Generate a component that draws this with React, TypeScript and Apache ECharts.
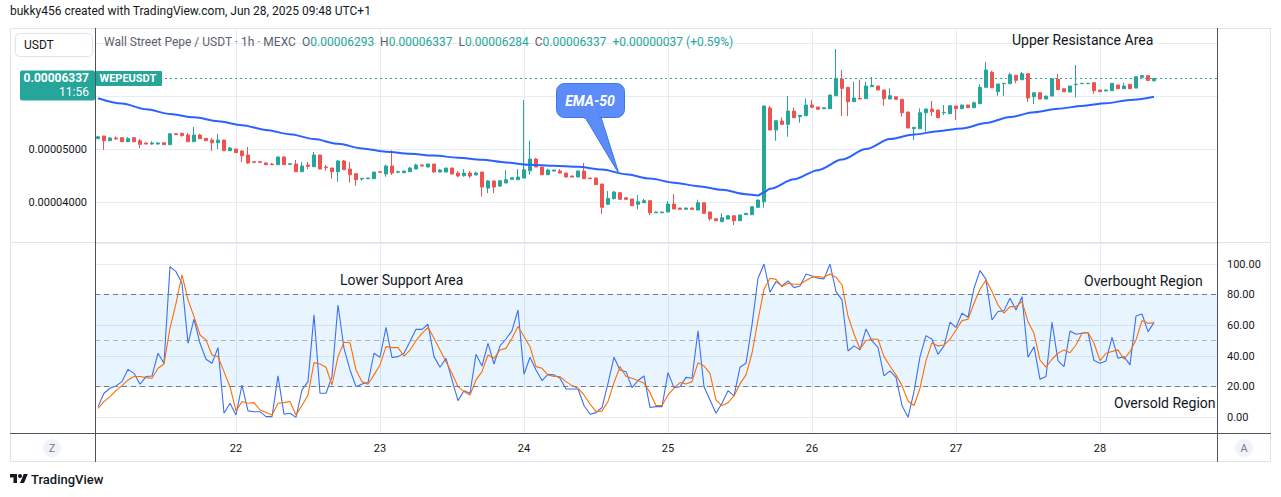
import React, { useEffect, useRef } from "react";
import * as echarts from "echarts";

const FONT = "Roboto, 'Liberation Sans', sans-serif";
const UP = "#26a69a";
const DOWN = "#ef5350";
const GRID = "#e6ecf3";
const TEXT = "#131722";
const PRICE_UNIT = 1e-8; // prices below are stored in units of 0.00000001 USDT

// hourly slots, starting Jun 21 01:00
const HOUR_SLOTS = 187;
const categories = Array.from({ length: HOUR_SLOTS }, (_, i) => {
  const h = i + 1;
  return `${21 + Math.floor(h / 24)} ${String(h % 24).padStart(2, "0")}:00`;
});

const open = [
  5200, 5251, 5162, 5213, 5219, 5143, 5219, 5162, 5119, 5100,
  5100, 5124, 5087, 5294, 5302, 5270, 5143, 5270, 5207, 5175,
  5124, 5175, 4973, 5005, 4968, 4892, 4766, 4766, 4741, 4722,
  4709, 4854, 4717, 4722, 4577, 4704, 4671, 4892, 4666, 4647,
  4577, 4779, 4628, 4539, 4439, 4445, 4445, 4577, 4534, 4685,
  4566, 4558, 4577, 4628, 4704, 4666, 4722, 4571, 4571, 4647,
  4552, 4502, 4552, 4515, 4571, 4269, 4402, 4307, 4364, 4434,
  4426, 4458, 4596, 4817, 4666, 4520, 4590, 4590, 4552, 4496,
  4477, 4590, 4458, 4458, 4345, 3962, 4068, 4181, 4086, 4062,
  3962, 3992, 4030, 3803, 3803, 3817, 3968, 3892, 3868, 3892,
  3854, 3992, 3817, 3690, 3634, 3684, 3747, 3652, 3766, 3766,
  3905, 4011, 5779, 5364, 5534, 5471, 5722, 5615, 5634, 5836,
  5798, 5766, 5766, 6011, 6326, 6170, 5898, 5962, 5955, 6181,
  6194, 6119, 5949, 5992, 5943, 5704, 5388, 5388, 5690, 5760,
  5741, 5690, 5671, 5817, 5766, 5836, 5785, 5860, 6170, 6453,
  6087, 6238, 6238, 6396, 6313, 6426, 5992, 6068, 5949, 6005,
  6321, 6143, 6081, 6221, 6238, 6238, 6256, 6119, 6100, 6105,
  6213, 6143, 6226, 6156, 6358, 6389, 6293,
];
const close = [
  5237, 5162, 5213, 5194, 5143, 5200, 5143, 5094, 5100, 5119,
  5119, 5087, 5294, 5275, 5260, 5143, 5270, 5200, 5162, 5124,
  5175, 4973, 5024, 4936, 4879, 4741, 4754, 4754, 4709, 4709,
  4854, 4709, 4728, 4577, 4685, 4679, 4892, 4628, 4653, 4577,
  4779, 4615, 4520, 4426, 4452, 4458, 4571, 4566, 4685, 4553,
  4577, 4590, 4647, 4704, 4685, 4722, 4571, 4609, 4647, 4534,
  4496, 4552, 4496, 4552, 4288, 4402, 4288, 4407, 4426, 4464,
  4477, 4615, 4817, 4666, 4520, 4609, 4609, 4552, 4477, 4477,
  4590, 4445, 4445, 4332, 3905, 4075, 4194, 4056, 4056, 3935,
  4011, 4030, 3803, 3817, 3817, 3968, 3873, 3868, 3892, 3868,
  3992, 3792, 3690, 3652, 3709, 3747, 3652, 3760, 3792, 3917,
  4043, 5817, 5364, 5539, 5471, 5722, 5596, 5641, 5836, 5792,
  5755, 5785, 6024, 6339, 6151, 5898, 5968, 5949, 6194, 6207,
  6119, 5955, 6011, 5943, 5690, 5402, 5415, 5690, 5760, 5709,
  5596, 5698, 5822, 5766, 5836, 5785, 5879, 6170, 6496, 6162,
  6232, 6245, 6407, 6302, 6426, 5968, 6068, 5949, 6005, 6332,
  6124, 6087, 6194, 6228, 6245, 6245, 6105, 6087, 6119, 6245,
  6143, 6194, 6143, 6370, 6389, 6300, 6337,
];
const low = [
  5194, 4987, 5160, 5185, 5137, 5137, 5137, 5024, 5090, 5087,
  5090, 5085, 5085, 5270, 5237, 5140, 5140, 5198, 5158, 4968,
  5005, 4970, 4968, 4930, 4760, 4728, 4750, 4750, 4704, 4704,
  4707, 4707, 4713, 4575, 4575, 4628, 4669, 4625, 4596, 4445,
  4388, 4613, 4369, 4313, 4407, 4440, 4443, 4562, 4483, 4515,
  4558, 4555, 4575, 4626, 4683, 4662, 4568, 4569, 4569, 4530,
  4471, 4483, 4458, 4513, 4105, 4175, 4175, 4288, 4362, 4430,
  4424, 4455, 4520, 4664, 4517, 4517, 4586, 4550, 4474, 4474,
  4474, 4443, 4440, 4330, 3779, 3949, 4056, 4050, 4050, 3930,
  3868, 3987, 3760, 3800, 3800, 3815, 3871, 3864, 3860, 3860,
  3852, 3790, 3652, 3650, 3632, 3680, 3572, 3650, 3762, 3762,
  3898, 3898, 5362, 5162, 5469, 5237, 5594, 5502, 5632, 5790,
  5752, 5762, 5764, 6009, 5628, 5628, 5896, 5947, 5953, 6179,
  6115, 5822, 5947, 5940, 5615, 5400, 5175, 5386, 5332, 5628,
  5594, 5647, 5669, 5553, 5764, 5783, 5783, 5858, 6168, 6160,
  6011, 6011, 6236, 6245, 6311, 5892, 5855, 5947, 5947, 6003,
  6122, 6085, 6079, 5981, 6234, 6234, 6049, 6085, 6098, 6103,
  6141, 6141, 6141, 6154, 6355, 6292, 6284,
];
const high = [
  5251, 5254, 5232, 5241, 5232, 5232, 5232, 5194, 5128, 5151,
  5137, 5128, 5302, 5300, 5313, 5307, 5421, 5294, 5210, 5213,
  5294, 5181, 5043, 5010, 4981, 5043, 4770, 4770, 4760, 4741,
  4868, 4873, 4732, 4798, 4760, 4760, 4949, 4895, 4704, 4650,
  4798, 4798, 4760, 4552, 4458, 4462, 4577, 4580, 4709, 4981,
  4596, 4594, 4666, 4728, 4717, 4726, 4726, 4628, 4650, 4650,
  4590, 4628, 4590, 4577, 4573, 4420, 4415, 4420, 4609, 4468,
  4628, 5930, 5162, 4836, 4670, 4634, 4613, 4628, 4555, 4500,
  4594, 4741, 4462, 4462, 4350, 4213, 4213, 4190, 4090, 4065,
  4137, 4062, 4035, 3820, 3822, 4024, 4156, 3896, 3900, 3900,
  4049, 3996, 3820, 3694, 3792, 3750, 3750, 3764, 3796, 3920,
  4047, 5820, 5817, 5542, 5604, 6005, 5785, 5647, 5962, 5930,
  5800, 5790, 6028, 6892, 6496, 6174, 6275, 6313, 6275, 6364,
  6198, 6122, 6151, 5996, 5946, 5708, 5420, 5773, 5773, 5911,
  5745, 5836, 5836, 5820, 5840, 5840, 5898, 6226, 6647, 6483,
  6236, 6251, 6445, 6400, 6458, 6430, 6072, 6072, 6009, 6335,
  6421, 6147, 6198, 6590, 6249, 6249, 6260, 6122, 6122, 6249,
  6217, 6256, 6230, 6374, 6398, 6398, 6337,
];

// EMA-50 (hour slot -> value)
const emaHours = [
  1, 5, 9, 13, 17, 21, 25, 29, 33, 37, 41, 45, 49, 53, 57, 61, 65, 69, 73, 77,
  81, 85, 89, 93, 97, 101, 105, 109, 111, 112, 113, 117, 121, 125, 129, 133,
  137, 141, 145, 149, 153, 157, 161, 165, 169, 173, 177,
];
const emaValues = [
  5964, 5864, 5756, 5666, 5604, 5530, 5456, 5364, 5285, 5194,
  5103, 5017, 4956, 4915, 4881, 4843, 4805, 4751, 4707, 4688,
  4669, 4619, 4528, 4447, 4371, 4305, 4235, 4154, 4128, 4190,
  4254, 4435, 4607, 4807, 5005, 5194, 5279, 5341, 5394, 5496,
  5609, 5700, 5766, 5817, 5870, 5930, 5992,
];

const stochK = [
  7.0, 15.7, 19.0, 20.5, 23.3, 31.3, 28.7, 21.6, 26.6, 27.0,
  41.8, 35.3, 98.3, 95.0, 87.4, 48.3, 64.0, 48.3, 37.9, 35.3,
  45.5, 2.7, 9.2, 1.6, 21.1, 4.2, 3.7, 3.7, 0.5, 0.5,
  27.0, 2.0, 2.7, 0.0, 17.9, 23.3, 66.8, 15.7, 15.7, 26.6,
  73.3, 45.0, 30.9, 20.0, 21.8, 22.7, 41.8, 39.2, 58.7, 39.0,
  39.6, 41.8, 49.4, 57.4, 57.4, 60.7, 39.6, 32.7, 38.5, 24.4,
  10.9, 17.4, 15.7, 41.1, 33.5, 48.3, 34.8, 46.6, 51.1, 56.6,
  70.0, 28.1, 39.2, 30.9, 24.0, 28.1, 27.7, 25.5, 18.5, 18.5,
  18.5, 7.7, 2.0, 3.1, 6.4, 22.2, 39.2, 30.9, 29.8, 19.4,
  24.0, 27.0, 6.4, 7.0, 7.0, 29.2, 19.4, 20.0, 26.1, 25.5,
  56.4, 20.0, 11.3, 2.7, 9.2, 17.4, 14.0, 32.7, 35.3, 60.3,
  90.7, 100.0, 81.6, 88.5, 85.7, 89.0, 84.6, 85.7, 93.5, 92.2,
  90.7, 90.3, 100.0, 82.0, 76.6, 43.3, 46.6, 44.0, 57.7, 49.8,
  45.7, 27.0, 30.3, 26.1, 7.7, 0.0, 16.8, 39.6, 53.3, 50.9,
  41.1, 46.6, 62.0, 58.7, 67.9, 65.3, 84.2, 95.7, 90.0, 63.5,
  69.0, 69.6, 77.7, 70.0, 78.7, 39.2, 46.1, 24.8, 26.6, 62.0,
  37.0, 33.1, 56.3, 54.2, 54.8, 55.3, 37.0, 35.3, 36.8, 52.2,
  38.5, 39.6, 34.2, 66.1, 67.4, 55.9, 61.8,
];
const stochD = [
  5.9, 10.3, 13.5, 17.4, 20.7, 24.4, 26.6, 26.6, 25.9, 25.5,
  32.0, 34.8, 58.1, 74.4, 92.9, 76.6, 65.7, 53.7, 50.5, 40.7,
  39.6, 29.8, 20.0, 4.2, 10.3, 9.2, 9.6, 4.8, 3.1, 1.6,
  9.2, 9.6, 10.3, 1.6, 7.7, 14.6, 35.7, 34.8, 32.7, 21.1,
  39.6, 49.0, 48.7, 30.9, 23.3, 21.6, 27.7, 34.2, 46.1, 45.5,
  45.5, 40.0, 43.9, 50.0, 54.8, 58.7, 51.6, 43.9, 36.3, 28.7,
  20.0, 16.8, 14.6, 24.4, 29.8, 40.7, 38.5, 43.9, 45.0, 51.6,
  59.2, 52.7, 46.1, 33.1, 32.0, 27.7, 26.6, 26.6, 23.3, 20.7,
  19.0, 14.6, 8.7, 3.7, 4.2, 10.3, 22.7, 33.1, 26.6, 25.5,
  24.0, 22.2, 16.1, 7.7, 7.7, 14.6, 19.0, 22.7, 21.8, 23.3,
  35.7, 33.5, 28.7, 11.3, 7.7, 9.6, 14.0, 21.8, 27.7, 41.8,
  63.5, 83.5, 90.7, 90.0, 85.3, 87.4, 86.8, 86.8, 89.2, 91.4,
  91.8, 91.4, 93.5, 91.4, 86.3, 66.1, 54.4, 44.6, 50.0, 51.1,
  50.9, 39.6, 33.5, 27.7, 20.7, 10.7, 7.7, 19.0, 37.0, 48.7,
  46.6, 47.2, 50.9, 57.0, 63.1, 64.0, 74.4, 83.5, 89.6, 82.0,
  73.3, 67.9, 72.2, 72.2, 75.5, 62.4, 54.8, 37.4, 32.7, 37.9,
  41.8, 44.0, 42.2, 47.2, 54.8, 55.3, 48.3, 37.0, 41.8, 42.9,
  44.0, 37.9, 42.9, 50.5, 63.1, 61.3, 61.8,
];

const priceLabelTicks = [4000, 5000];
const oscLabelTicks = [0, 20, 40, 60, 80, 100];
const oscLevels = { upper: 80, middle: 50, lower: 20 };
const PRICE_MIN = 3251;
const PRICE_MAX = 7289;
const OSC_MIN = -10.2;
const OSC_MAX = 113.7;

const fmtPrice = (v: number) => (v * PRICE_UNIT).toFixed(8);

echarts.graphic.registerShape(
  "tvlogo",
  echarts.graphic.extendPath("M14 22H7V11H0V4h14v18zM28 22h-8l7.5-18h8L28 22z", {})
);

function buildOption() {
  const candles = open.map((o, i) => [o, close[i], low[i], high[i]]);
  const lastClose = close[close.length - 1];
  const hiddenX = (gridIndex: number) => ({
    type: "value",
    gridIndex,
    min: 0.5,
    max: HOUR_SLOTS + 0.5,
    minInterval: 24,
    maxInterval: 24,
    axisLine: { show: false },
    axisTick: { show: false },
    axisLabel: { show: false },
    splitLine: { show: true, lineStyle: { color: GRID, width: 1 } },
  });
  return {
    animation: false,
    textStyle: { fontFamily: FONT },
    grid: [
      { left: 95, top: 28, width: 1122, height: 214 },
      { left: 95, top: 243, width: 1122, height: 190 },
    ],
    xAxis: [
      {
        type: "category",
        gridIndex: 0,
        data: categories,
        boundaryGap: true,
        axisLine: { show: false },
        axisTick: { show: false },
        axisLabel: { show: false },
        splitLine: { show: false },
      },
      {
        type: "category",
        gridIndex: 1,
        data: categories,
        boundaryGap: true,
        axisLine: { show: false },
        axisTick: { show: false },
        axisLabel: {
          interval: (_i: number, v: string) => v.endsWith(" 00:00"),
          formatter: (v: string) => v.split(" ")[0],
          color: TEXT,
          fontSize: 11,
          fontFamily: FONT,
          margin: 10,
        },
        splitLine: { show: false },
      },
      hiddenX(0),
      hiddenX(1),
    ],
    yAxis: [
      {
        type: "value",
        gridIndex: 0,
        position: "left",
        min: PRICE_MIN,
        max: PRICE_MAX,
        minInterval: 1000,
        maxInterval: 1000,
        axisLine: { show: false },
        axisTick: { show: false },
        axisLabel: {
          color: TEXT,
          fontSize: 11,
          fontFamily: FONT,
          margin: 8,
          formatter: (v: number) => (priceLabelTicks.includes(v) ? fmtPrice(v) : ""),
        },
        splitLine: { lineStyle: { color: GRID } },
      },
      {
        type: "value",
        gridIndex: 1,
        position: "right",
        min: OSC_MIN,
        max: OSC_MAX,
        minInterval: 20,
        maxInterval: 20,
        axisLine: { show: false },
        axisTick: { show: false },
        axisLabel: {
          color: TEXT,
          fontSize: 11,
          fontFamily: FONT,
          margin: 10,
          formatter: (v: number) => (oscLabelTicks.includes(v) ? v.toFixed(2) : ""),
        },
        splitLine: { lineStyle: { color: GRID } },
      },
    ],
    series: [
      {
        type: "candlestick",
        xAxisIndex: 0,
        yAxisIndex: 0,
        data: candles,
        barWidth: 4,
        z: 2,
        itemStyle: {
          color: UP,
          color0: DOWN,
          borderColor: UP,
          borderColor0: DOWN,
          borderWidth: 1,
        },
        markLine: {
          silent: true,
          symbol: "none",
          label: { show: false },
          lineStyle: { color: UP, type: [2, 3], width: 1, opacity: 1 },
          data: [{ yAxis: lastClose }],
        },
      },
      {
        type: "line",
        name: "EMA-50",
        xAxisIndex: 0,
        yAxisIndex: 0,
        data: emaHours.map((h, i) => [h - 1, emaValues[i]]),
        smooth: 0.3,
        smoothMonotone: "x",
        symbol: "none",
        z: 3,
        lineStyle: { color: "#2962ff", width: 2 },
      },
      {
        type: "line",
        name: "K",
        xAxisIndex: 1,
        yAxisIndex: 1,
        data: stochK,
        symbol: "none",
        z: 3,
        lineStyle: { color: "#3d6ff5", width: 1.1 },
        markArea: {
          silent: true,
          itemStyle: { color: "rgba(33,150,243,0.1)" },
          data: [[{ yAxis: oscLevels.lower }, { yAxis: oscLevels.upper }]],
        },
        markLine: {
          silent: true,
          symbol: "none",
          label: { show: false },
          lineStyle: { type: [5, 4], width: 1, color: "#787b86" },
          data: [
            { yAxis: oscLevels.upper },
            { yAxis: oscLevels.lower },
            { yAxis: oscLevels.middle, lineStyle: { color: "rgba(120,123,134,0.55)", type: [5, 4] } },
          ],
        },
      },
      {
        type: "line",
        name: "D",
        xAxisIndex: 1,
        yAxisIndex: 1,
        data: stochD,
        symbol: "none",
        z: 4,
        lineStyle: { color: "#ff6d00", width: 1.1 },
      },
    ],
  };
}

function buildGraphics(py: number) {
  const n = close.length;
  const lastO = open[n - 1];
  const lastH = high[n - 1];
  const lastL = low[n - 1];
  const lastC = close[n - 1];
  const chg = lastC - close[n - 2];
  const pct = (chg / close[n - 2]) * 100;
  const sign = chg >= 0 ? "+" : "-";
  const legendText =
    `{t|Wall Street Pepe / USDT · 1h · MEXC}  {k|O}{v|${fmtPrice(lastO)}}  {k|H}{v|${fmtPrice(lastH)}}  ` +
    `{k|L}{v|${fmtPrice(lastL)}}  {k|C}{v|${fmtPrice(lastC)}}  {v|${sign}${fmtPrice(Math.abs(chg))} (${sign}${Math.abs(pct).toFixed(2)}%)}`;

  const line = (x1: number, y1: number, x2: number, y2: number, stroke: string) => ({
    type: "line",
    z: 60,
    silent: true,
    shape: { x1, y1, x2, y2 },
    style: { stroke, lineWidth: 1 },
  });
  const txt = (x: number, y: number, text: string, extra: any = {}, z = 100) => ({
    type: "text",
    x,
    y,
    z,
    silent: true,
    style: {
      text,
      fill: TEXT,
      fontSize: 14,
      fontFamily: FONT,
      align: "left",
      verticalAlign: "middle",
      ...extra,
    },
  });
  const CALLOUT_FILL = "#5b8cfa";
  const CALLOUT_STROKE = "#3b78e7";
  const LEG = 12;

  return [
    // frame
    { type: "rect", z: 55, silent: true, shape: { x: 10.5, y: 28.5, width: 1260, height: 433 }, style: { fill: "none", stroke: "#e0e3eb", lineWidth: 1 } },
    line(10, 242.5, 1271, 242.5, "#e0e3eb"),
    line(95.5, 28, 95.5, 462, "#50535e"),
    line(1217.5, 28, 1217.5, 462, "#50535e"),
    line(10, 433.5, 1271, 433.5, "#50535e"),

    // header
    txt(10, 11, "bukky456 created with TradingView.com, Jun 28, 2025 09:48 UTC+1", { fontSize: 12 }),

    // currency box
    { type: "rect", z: 100, silent: true, shape: { x: 15.5, y: 33.5, width: 77, height: 23, r: 4 }, style: { fill: "#fff", stroke: "#e0e3eb", lineWidth: 1 } },
    txt(24, 45, "USDT", { fontSize: 12 }),

    // legend
    {
      type: "text",
      x: 104,
      y: 42,
      z: 100,
      silent: true,
      style: {
        text: legendText,
        fontFamily: FONT,
        fontSize: LEG,
        fill: "#5d606b",
        align: "left",
        verticalAlign: "middle",
        rich: {
          t: { fill: "#5d606b", fontSize: LEG, fontFamily: FONT },
          k: { fill: "#5d606b", fontSize: LEG, fontFamily: FONT },
          v: { fill: UP, fontSize: LEG, fontFamily: FONT },
        },
      },
    },

    // annotations
    txt(1012, 39.5, "Upper Resistance Area"),
    txt(340, 279.5, "Lower Support Area"),
    txt(1084, 280.5, "Overbought Region"),
    txt(1114, 402.5, "Oversold Region"),

    // EMA-50 callout
    { type: "polygon", z: 101, silent: true, shape: { points: [[583, 114], [600, 114], [619, 174]] }, style: { fill: CALLOUT_FILL, stroke: CALLOUT_STROKE, lineWidth: 1 } },
    { type: "rect", z: 102, silent: true, shape: { x: 556.5, y: 83.5, width: 68, height: 34, r: 8 }, style: { fill: CALLOUT_FILL, stroke: CALLOUT_STROKE, lineWidth: 1 } },
    { type: "rect", z: 103, silent: true, shape: { x: 584, y: 112, width: 15, height: 7 }, style: { fill: CALLOUT_FILL } },
    txt(590, 100.5, "EMA-50", { fill: "#ffffff", fontSize: 14, fontWeight: "bold", fontStyle: "italic", align: "center" }, 110),

    // last price tags
    { type: "rect", z: 100, silent: true, shape: { x: 20, y: py - 8, width: 75, height: 30, r: 2 }, style: { fill: UP } },
    txt(89, py, fmtPrice(lastC), { fill: "#fff", fontSize: 12, fontWeight: "bold", align: "right" }, 101),
    txt(89, py + 14, "11:56", { fill: "#fff", fontSize: 12, align: "right" }, 101),
    { type: "rect", z: 100, silent: true, shape: { x: 96, y: py - 7.5, width: 66, height: 15, r: 1 }, style: { fill: UP } },
    txt(99.5, py + 0.5, "WEPEUSDT", { fill: "#fff", fontSize: 11, fontWeight: "bold" }, 101),

    // time-axis buttons
    { type: "circle", z: 100, silent: true, shape: { cx: 52, cy: 448, r: 9 }, style: { fill: "#f0f3fa" } },
    txt(52, 448.5, "Z", { fill: "#787b86", fontSize: 11, align: "center" }, 101),
    { type: "circle", z: 100, silent: true, shape: { cx: 1244, cy: 448, r: 9 }, style: { fill: "#f0f3fa" } },
    txt(1244, 448.5, "A", { fill: "#787b86", fontSize: 11, align: "center" }, 101),

    // TradingView logo
    { type: "tvlogo", z: 100, silent: true, x: 10, y: 472, scaleX: 0.5, scaleY: 0.5, style: { fill: TEXT } },
    { type: "circle", z: 100, silent: true, shape: { cx: 20, cy: 476, r: 2 }, style: { fill: TEXT } },
    txt(31, 479.5, "TradingView", { fontSize: 13, fontWeight: 500 }),
  ];
}

export default function App() {
  const ref = useRef<HTMLDivElement>(null);
  useEffect(() => {
    if (!ref.current) return;
    const chart = echarts.init(ref.current, null, { renderer: "svg" });
    chart.setOption(buildOption() as any);
    const py = chart.convertToPixel({ yAxisIndex: 0 } as any, close[close.length - 1]) as unknown as number;
    chart.setOption({ graphic: buildGraphics(typeof py === "number" ? py : 78) } as any);
    return () => chart.dispose();
  }, []);
  return (
    <div
      ref={ref}
      style={{ position: "fixed", left: 0, top: 0, width: 1281, height: 497, background: "#ffffff" }}
    />
  );
}
